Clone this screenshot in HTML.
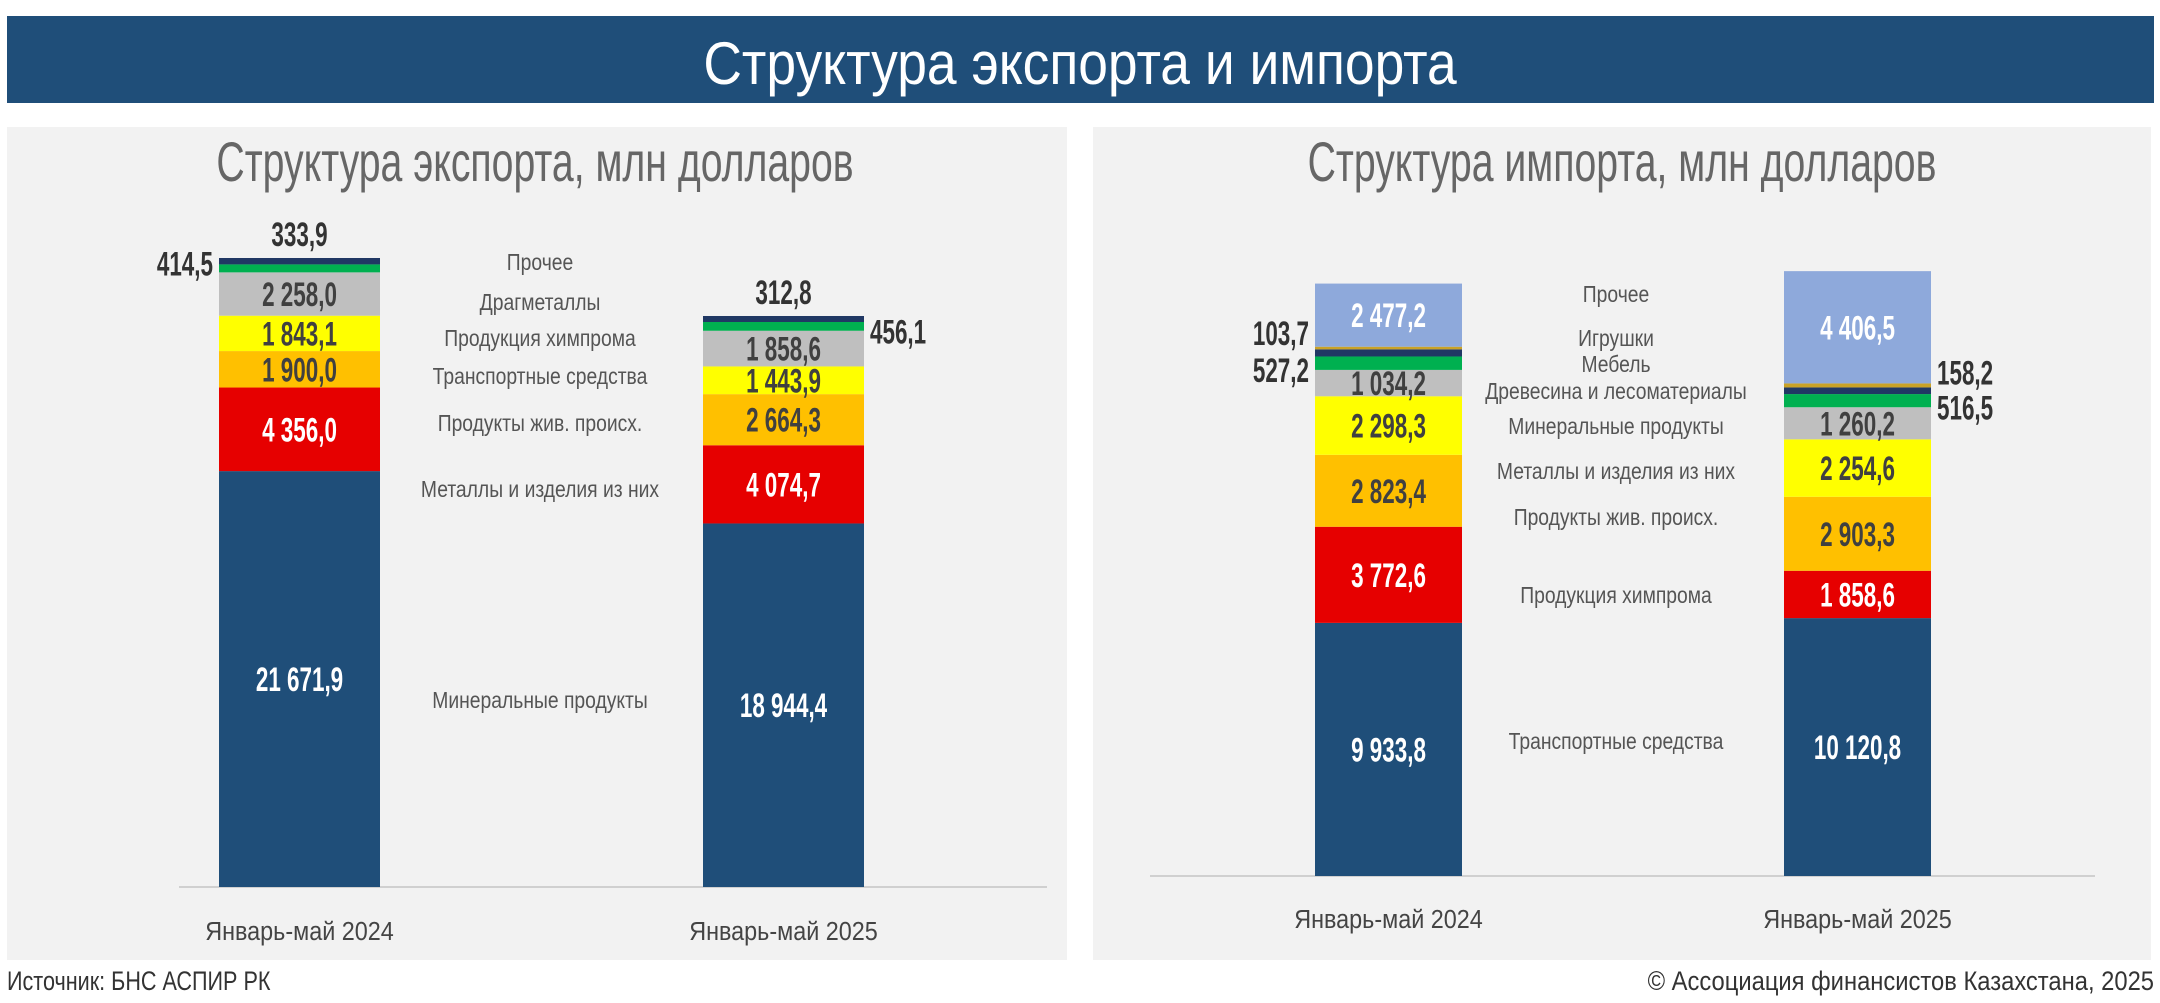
<!DOCTYPE html>
<html><head><meta charset="utf-8">
<style>
html,body{margin:0;padding:0;background:#fff;}
body{width:2160px;height:998px;position:relative;overflow:hidden;font-family:"Liberation Sans",sans-serif;}
svg text{font-family:"Liberation Sans",sans-serif;}
</style></head>
<body>
<svg id="root" width="2160" height="998" xmlns="http://www.w3.org/2000/svg">
<rect x="7" y="16" width="2147" height="87" fill="#1F4E79"/>
<text transform="translate(1080,84) scale(0.89,1)" text-anchor="middle" font-size="60" fill="#fff">Структура экспорта и импорта</text>
<rect x="7" y="127" width="1060" height="833" fill="#F2F2F2"/>
<rect x="1093" y="127" width="1058" height="833" fill="#F2F2F2"/>
<text transform="translate(535,181) scale(0.7,1)" text-anchor="middle" font-size="56" fill="#666">Структура экспорта, млн долларов</text>
<text transform="translate(1622,181) scale(0.7,1)" text-anchor="middle" font-size="56" fill="#666">Структура импорта, млн долларов</text>
<line x1="179" y1="887" x2="1047" y2="887" stroke="#D0D0D0" stroke-width="2"/>
<line x1="1150" y1="876" x2="2095" y2="876" stroke="#D0D0D0" stroke-width="2"/>
<text transform="translate(7,990) scale(0.8,1)" font-size="27" fill="#333">Источник: БНС АСПИР РК</text>
<text transform="translate(2154,990) scale(0.88,1)" text-anchor="end" font-size="27" fill="#333">© Ассоциация финансистов Казахстана, 2025</text>
<g id="exp"></g><g id="imp"></g>
</svg>
<script>
// ---- Export data (bottom to top) ----
const expCategories = ["Январь-май 2024","Январь-май 2025"];
const expSeriesNames = ["Минеральные продукты","Металлы и изделия из них","Продукты жив. происх.","Транспортные средства","Продукция химпрома","Драгметаллы","Прочее"];
const expMineral = [21671.9, 18944.4];
const expMetals = [4356.0, 4074.7];
const expAnimal = [1900.0, 2664.3];
const expTransport = [1843.1, 1443.9];
const expChem = [2258.0, 1858.6];
const expPrecious = [414.5, 456.1];
const expOther = [333.9, 312.8];
// ---- Import data (bottom to top) ----
const impCategories = ["Январь-май 2024","Январь-май 2025"];
const impSeriesNames = ["Транспортные средства","Продукция химпрома","Продукты жив. происх.","Металлы и изделия из них","Минеральные продукты","Древесина и лесоматериалы","Мебель","Игрушки","Прочее"];
const impTransport = [9933.8, 10120.8];
const impChem = [3772.6, 1858.6];
const impAnimal = [2823.4, 2903.3];
const impMetals = [2298.3, 2254.6];
const impMineral = [1034.2, 1260.2];
const impWood = [527.2, 516.5];
const impFurniture = [280, 260];
const impToys = [103.7, 158.2];
const impOther = [2477.2, 4406.5];

const NS="http://www.w3.org/2000/svg";
function mk(parent,tag,attrs,txt){const e=document.createElementNS(NS,tag);for(const k in attrs)e.setAttribute(k,attrs[k]);if(txt!==undefined)e.textContent=txt;parent.appendChild(e);return e;}
function T(parent,x,y,txt,size,sx,anchor,fill,weight){
  return mk(parent,"text",{transform:"translate("+x+","+y+") scale("+sx+",1)","text-anchor":anchor,"font-size":size,"font-weight":weight||"normal",fill:fill},txt);
}
function fmt(v){const p=v.toFixed(1).split(".");return p[0].replace(/\B(?=(\d{3})+(?!\d))/g," ")+","+p[1];}

function drawChart(gid,cfg){
  const g=document.getElementById(gid);
  const y=v=>cfg.base - v*cfg.scale;
  cfg.categories.forEach((cat,i)=>{
    let cum=0;
    cfg.series.forEach((s,si)=>{
      const v=s.data[i];
      const y0=y(cum), y1=y(cum+v);
      const r=mk(g,"rect",{x:cfg.barX[i],y:y1,width:cfg.barW,height:y0-y1,fill:s.color});
      
      
      const mid=(y0+y1)/2;
      if(s.inside){
        const t=T(g,cfg.barX[i]+cfg.barW/2,mid+12,fmt(v),34,0.66,"middle",s.txt,"bold");
        
        
      } else if(s.outside && s.outside[i]){
        const o=s.outside[i];
        let tx,ty,anchor;
        if(o.pos==="top"){tx=cfg.barX[i]+cfg.barW/2;ty=y(cum+v)-12;anchor="middle";}
        else if(o.pos==="left"){tx=cfg.barX[i]-6;ty=mid+11+o.dy;anchor="end";}
        else {tx=cfg.barX[i]+cfg.barW+6;ty=mid+11+o.dy;anchor="start";}
        const t=T(g,tx,ty,fmt(v),34,0.66,anchor,"#333","bold");
        
        
      }
      cum+=v;
    });
    const c=T(g,cfg.barX[i]+cfg.barW/2,cfg.catY,cat,26,0.9,"middle","#444");
    
    
  });
  cfg.names.forEach((n,k)=>{
    const t=T(g,cfg.legX,cfg.legY[k],n,23,0.84,"middle","#555");
    
    
  });
}

drawChart("exp",{
  categories:expCategories, base:887, scale:0.01919, barX:[219,703], barW:161, catY:940,
  series:[
    {data:expMineral,color:"#1F4E79",inside:true,txt:"#fff"},
    {data:expMetals,color:"#E60000",inside:true,txt:"#fff"},
    {data:expAnimal,color:"#FFC000",inside:true,txt:"#404040"},
    {data:expTransport,color:"#FFFF00",inside:true,txt:"#404040"},
    {data:expChem,color:"#BFBFBF",inside:true,txt:"#404040"},
    {data:expPrecious,color:"#00B050",outside:[{pos:"left",dy:-4},{pos:"right",dy:6}]},
    {data:expOther,color:"#203864",outside:[{pos:"top"},{pos:"top"}]}
  ],
  names:expSeriesNames.slice().reverse(), legX:540,
  legY:[270,310,346,384,431,497,708]
});
drawChart("imp",{
  categories:impCategories, base:876, scale:0.02548, barX:[1315,1784], barW:147, catY:928,
  series:[
    {data:impTransport,color:"#1F4E79",inside:true,txt:"#fff"},
    {data:impChem,color:"#E60000",inside:true,txt:"#fff"},
    {data:impAnimal,color:"#FFC000",inside:true,txt:"#404040"},
    {data:impMetals,color:"#FFFF00",inside:true,txt:"#404040"},
    {data:impMineral,color:"#BFBFBF",inside:true,txt:"#404040"},
    {data:impWood,color:"#00B050",outside:[{pos:"left",dy:8},{pos:"right",dy:8}]},
    {data:impFurniture,color:"#203864"},
    {data:impToys,color:"#C9A227",outside:[{pos:"left",dy:-14},{pos:"right",dy:-12}]},
    {data:impOther,color:"#8EA9DB",inside:true,txt:"#fff"}
  ],
  names:impSeriesNames.slice().reverse(), legX:1616,
  legY:[302,346,372,399,434,479,525,603,749]
});
</script>
</body></html>
